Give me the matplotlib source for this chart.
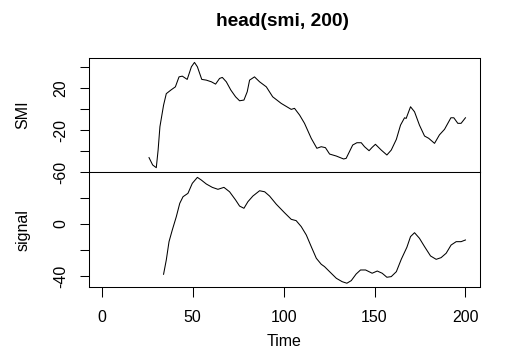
import matplotlib.pyplot as plt

plt.rcParams['font.family'] = ['Liberation Sans', 'DejaVu Sans']

# values (time, value)
smi_t = [26, 28, 30, 31, 32, 34, 35.5, 38, 40.5, 42.5, 44.3, 47, 49.3, 51, 52.6, 55,
         57.5, 60.3, 62.6, 64.8, 66.3, 68.5, 71, 73.6, 75.8, 78.2, 80, 81.3, 84, 86.8,
         90.5, 94, 98.7, 104.2, 106, 108.8, 111.5, 115.2, 118.3, 120.7, 123, 125.3, 129,
         133, 134.4, 138, 140.3, 142.7, 144.5, 147, 148.7, 150.5, 153.7, 156.8, 159.2,
         162, 164.3, 166.5, 167.4, 169.8, 172, 174.7, 177.5, 179.8, 183, 185.7, 188.5,
         192, 193.6, 195.8, 197.6, 200]
smi_v = [-46, -53, -55.6, -38.8, -16.5, 4, 15, 18.4, 21.5, 31, 31.7, 28.6, 40.6, 44.8,
         40.6, 28.6, 27.9, 26.3, 24.1, 29.5, 30.5, 26.3, 18.4, 12, 8.2, 8.9, 16.8, 27.9,
         31, 26.3, 21.5, 12, 5.7, 0, 1, -5.4, -13.3, -27.6, -37.1, -35.6, -36.5, -42.6,
         -44.5, -47.3, -46.7, -34, -31.8, -31.8, -35.6, -39.4, -36.2, -33.3, -38.8, -43.5,
         -38.8, -28.6, -15, -8, -8.6, 2.5, -2.3, -15, -25.4, -27.6, -32.4, -24.3, -19,
         -8, -8, -13.3, -13.3, -8]

sig_t = [34, 35.5, 37, 38.8, 41, 42.9, 44.7, 47.4, 49.8, 52.6, 54.8, 57.5, 60.8, 63.9,
         67.2, 70.3, 73.6, 75.8, 78.2, 80.4, 83.1, 86.8, 89.6, 92.3, 96, 100.5, 104.2,
         106.9, 109.7, 112.5, 115.2, 118, 120.7, 122.5, 125.3, 129, 132.2, 134.8, 137.2,
         139.9, 142.3, 145.1, 148.7, 151.5, 154.2, 156.8, 159.2, 162, 164.7, 167.8, 169.8,
         172, 174.7, 177.5, 180.8, 183.9, 186.6, 189.4, 192.1, 194.9, 197.6, 200]
sig_v = [-38.7, -27.7, -13.6, -4.6, 5.6, 15.9, 21, 23.6, 31.3, 35.9, 33.8, 30.8, 28.2,
         26.7, 28.2, 24.8, 18.5, 13.8, 12.1, 17.2, 21.5, 25.6, 24.8, 21.5, 15.2, 8.7, 3.6,
         2.6, -2, -8.5, -17.4, -26.4, -31, -32.8, -36.7, -41.8, -44.4, -45.6, -43.6, -38.5,
         -35.4, -35.4, -37.9, -36.2, -37.9, -41, -40.5, -36.7, -27.2, -17.9, -9.7, -6.7,
         -11, -17.4, -24.6, -27.2, -25.9, -22.5, -16.2, -13.6, -13.6, -12.3]

x_ticks = [0, 50, 100, 150, 200]

W, H = 505, 363
fig = plt.figure(figsize=(W / 100, H / 100), dpi=100)

left, right = 89 / W, 480 / W
top, mid, bot = 1 - 58 / H, 1 - 172.3 / H, 1 - 287 / H
ax1 = fig.add_axes([left, mid, right - left, top - mid])
ax2 = fig.add_axes([left, bot, right - left, mid - bot])

fs = 11.5
for ax in (ax1, ax2):
    for s in ax.spines.values():
        s.set_linewidth(0.75)
    ax.set_xlim(-7, 208)
    ax.tick_params(axis='y', direction='out', length=6.2, width=0.75, pad=8.5,
                   labelsize=fs, labelrotation=90)

ax1.plot(smi_t, smi_v, color='black', lw=0.75)
ax1.set_ylim(-60, 49)
ax1.set_yticks([-60, -40, -20, 0, 20, 40])
ax1.set_yticklabels(['-60', '', '-20', '', '20', ''], va='center')
ax1.set_xticks([])
ax1.set_ylabel('SMI', fontsize=fs)
ax1.yaxis.set_label_coords(-0.169, 0.5)

ax2.plot(sig_t, sig_v, color='black', lw=0.75)
ax2.set_ylim(-48.5, 39.8)
ax2.set_yticks([-40, -20, 0, 20])
ax2.set_yticklabels(['-40', '', '0', ''], va='center')
ax2.set_xticks(x_ticks)
ax2.tick_params(axis='x', direction='out', length=7.2, width=0.75, pad=9.6, labelsize=fs)
ax2.set_ylabel('signal', fontsize=fs)
ax2.yaxis.set_label_coords(-0.169, 0.5)
ax2.set_xlabel('Time', fontsize=fs)
ax2.xaxis.set_label_coords(0.5, -0.477)
ax2.xaxis.label.set_va('center')
for ax in (ax1, ax2):
    ax.yaxis.label.set_va('center')

fig.text(282 / W, 1 - 22 / H, 'head(smi, 200)', ha='center', va='center',
         fontsize=13.8, fontweight='bold')

fig.savefig('out.png', dpi=100)
